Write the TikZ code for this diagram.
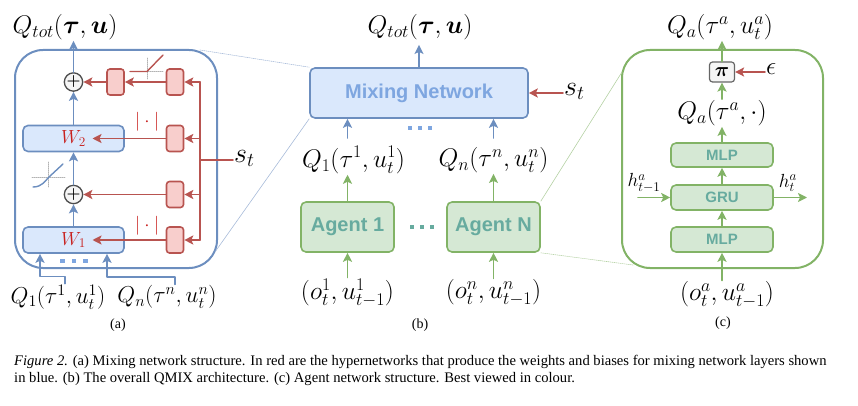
\RequirePackage{fix-cm}
\documentclass[tikz,border=0pt]{standalone}
\usepackage{amsmath}
\usepackage{fontspec}
\newfontfamily\sansbox{Liberation Sans}
\newfontfamily\capfont{Liberation Serif}
\usetikzlibrary{arrows.meta,calc,positioning}

\definecolor{blueline}{HTML}{6C8EBF}
\definecolor{bluefill}{HTML}{DAE8FC}
\definecolor{bluetext}{HTML}{7EA6E0}
\definecolor{redline}{HTML}{B85450}
\definecolor{redfill}{HTML}{F8CECC}
\definecolor{wred}{HTML}{C8201E}
\definecolor{greenline}{HTML}{82B366}
\definecolor{greenfill}{HTML}{D5E8D4}
\definecolor{tealtext}{HTML}{67AB9F}
\definecolor{greyline}{HTML}{666666}
\definecolor{greyfill}{HTML}{F5F5F5}
\definecolor{plusline}{HTML}{4D4D4D}

\tikzset{
  bluepanel/.style={draw=blueline, line width=2pt, rounded corners=28pt},
  greenpanel/.style={draw=greenline, line width=2pt, rounded corners=28pt},
  bluebox/.style={draw=blueline, fill=bluefill, line width=1.6pt, rounded corners=5pt, inner sep=0pt},
  redbox/.style={draw=redline, fill=redfill, line width=1.6pt, rounded corners=3pt,
    minimum width=17pt, minimum height=26pt, inner sep=0pt},
  greenbox/.style={draw=greenline, fill=greenfill, line width=1.6pt, rounded corners=5pt,
    inner sep=0pt, text=tealtext, font=\sansbox\bfseries\fontsize{20}{24}\selectfont},
  mlpbox/.style={greenbox, minimum width=102pt, minimum height=24pt,
    font=\sansbox\bfseries\fontsize{15}{18}\selectfont},
  greybox/.style={draw=greyline, fill=greyfill, line width=1.2pt, rounded corners=3pt,
    minimum width=25pt, minimum height=20pt, inner sep=0pt, font=\fontsize{20}{22}\selectfont},
  plusnode/.style={circle, draw=plusline, fill=greyfill, line width=1.3pt, minimum size=17pt,
    inner sep=0pt, font=\fontsize{16}{16}\selectfont},
  lbl/.style={inner sep=1pt, font=\fontsize{25.5}{28}\selectfont},
  lblA/.style={inner sep=1pt, font=\fontsize{23}{26}\selectfont},
  statelbl/.style={inner sep=1pt, anchor=mid west, font=\fontsize{28}{30}\selectfont},
  smalllbl/.style={inner sep=1pt, font=\fontsize{19}{21}\selectfont},
  sublbl/.style={inner sep=0pt, font=\capfont\fontsize{14}{16}\selectfont},
  captxt/.style={inner sep=0pt, anchor=base west, font=\capfont\fontsize{14.6}{17.5}\selectfont},
  tip/.style={-{Stealth[length=9pt,width=9pt,inset=2pt]}},
  bluearrow/.style={draw=blueline, line width=1.8pt, tip},
  redarrow/.style={draw=redline, line width=1.8pt, tip},
  greenarrow/.style={draw=greenline, line width=1.8pt, tip},
  redwire/.style={draw=redline, line width=1.8pt},
  guide/.style={draw=gray!60, line width=0.6pt, dash pattern=on 1pt off 1pt},
  zoomblue/.style={draw=blueline!60, line width=0.6pt},
  zoomgreen/.style={draw=greenline!60, line width=0.6pt},
}

\begin{document}
\begin{tikzpicture}[x=1pt, y=-1pt, line cap=round, line join=round]
  \useasboundingbox (0,0) rectangle (858,406);

  % --- (a) mixing network ---
  \draw[bluepanel] (15,50) rectangle (217,268);
  \node[lbl] (qtotA) at (65,27) {$Q_{tot}(\boldsymbol{\tau},\boldsymbol{u})$};
  \node[plusnode] (plusT) at (73.5,82) {$\boldsymbol{+}$};
  \node[plusnode] (plusM) at (73.5,194.5) {$\boldsymbol{+}$};
  \node[bluebox, minimum width=101pt, minimum height=26pt, text=wred,
        font=\fontsize{19}{22}\selectfont] (W2) at (73.5,138.5) {$W_2$};
  \node[bluebox, minimum width=101pt, minimum height=26pt, text=wred,
        font=\fontsize{19}{22}\selectfont] (W1) at (73.5,240) {$W_1$};
  % hypernetworks
  \node[redbox] (hb2a) at (115.5,82) {};
  \node[redbox] (hb2) at (175,82) {};
  \node[redbox] (hw2) at (175,138.5) {};
  \node[redbox] (hb1) at (175,194.5) {};
  \node[redbox] (hw1) at (175,240) {};
  \node[smalllbl, text=wred] (absT) at (147,122) {$|\cdot|$};
  \node[smalllbl, text=wred] (absB) at (147,226) {$|\cdot|$};

  \draw[bluearrow] (W1) -- (plusM);
  \draw[bluearrow] (plusM) -- (W2);
  \draw[bluearrow] (W2) -- (plusT);
  \draw[bluearrow] (plusT) -- (plusT |- qtotA.south);

  \draw[redarrow] (hb2) -- (hb2a);
  \draw[redarrow] (hb2a) -- (plusT);
  \draw[redarrow] (hw2) -- ($(W2.center)+(19,0)$);
  \draw[redarrow] (hb1) -- (plusM);
  \draw[redarrow] (hw1) -- ($(W1.center)+(19,0)$);

  % s_t feeds every hypernetwork
  \coordinate (trTop) at (200,82);
  \coordinate (trBot) at (200,240);
  \coordinate (stEnd) at (233,160);
  \draw[redwire] (trTop) -- (trBot);
  \foreach \n in {hb2,hw2,hb1,hw1}
    \draw[redarrow] (trTop |- \n.east) -- (\n.east);
  \draw[redwire] (stEnd) -- (stEnd -| trTop);
  \node[statelbl] (stA) at (stEnd) {$s_t$};

  % activation icons
  \draw[guide] (147,58) -- (147,80) (130,71.5) -- (163,71.5);
  \draw[redwire, line width=1.4pt] (130,71.5) -- (147,71.5) -- (163,55);
  \draw[guide] (48,162) -- (48,188) (32,177) -- (65,177);
  \draw[draw=blueline, line width=1.4pt] (33,187) .. controls (42,187) and (45,181) .. (49,177) -- (63,164);

  \foreach \x in {62.5,74,85.5}
    \fill[bluetext] (\x-2.3,258.7) rectangle (\x+2.3,263.3);

  \node[lblA] (q1A) at (58,297) {$Q_1(\tau^1,u_t^1)$};
  \node[lblA] (qnA) at (167,297) {$Q_n(\tau^n,u_t^n)$};
  \draw[bluearrow] ([xshift=7pt]q1A.north) -- ++(0,-7) -| ([xshift=-33.5pt]W1.south);
  \draw[bluearrow] ([xshift=8pt]qnA.north) -- ++(0,-7) -| ([xshift=33.5pt]W1.south);
  \node[sublbl] (capA) at (118,325) {(a)};

  % --- (b) QMIX ---
  \node[bluebox, minimum width=218pt, minimum height=50pt, text=bluetext,
        font=\sansbox\bfseries\fontsize{20}{24}\selectfont] (mix) at (419,93) {Mixing Network};
  \node[lbl] (qtotB) at (420,27) {$Q_{tot}(\boldsymbol{\tau},\boldsymbol{u})$};
  \draw[bluearrow] (mix.north) -- ([yshift=-4pt]mix.north |- qtotB.south);
  \node[statelbl] (stB) at (563,93) {$s_t$};
  \draw[redarrow] (stB.mid west) -- (mix.east);

  \node[greenbox, minimum width=93pt, minimum height=50pt] (agent1) at (347.5,227) {Agent 1};
  \node[greenbox, minimum width=93pt, minimum height=50pt] (agentN) at (493.5,227) {Agent N};
  \node[lbl] (q1B) at (353.5,160) {$Q_1(\tau^1,u_t^1)$};
  \node[lbl] (qnB) at (493.5,160) {$Q_n(\tau^n,u_t^n)$};
  \coordinate (in1) at (347.5,138);
  \coordinate (inN) at (493.5,138);
  \draw[bluearrow] (in1) -- (in1 |- mix.south);
  \draw[bluearrow] (inN) -- (inN |- mix.south);
  \foreach \x in {410,420,430}
    \fill[bluetext] (\x-2.3,125.7) rectangle (\x+2.3,130.3);

  \draw[greenarrow] (agent1) -- (agent1 |- q1B.south);
  \draw[greenarrow] (agentN) -- (agentN |- qnB.south);
  \foreach \x in {412,422,432}
    \fill[tealtext] (\x-2.3,224.7) rectangle (\x+2.3,229.3);

  \node[lbl] (o1) at (347.5,293) {$(o_t^1,u_{t-1}^1)$};
  \node[lbl] (on) at (493.5,293) {$(o_t^n,u_{t-1}^n)$};
  \draw[greenarrow] (o1.north -| agent1) -- (agent1);
  \draw[greenarrow] (on.north -| agentN) -- (agentN);
  \node[sublbl] (capB) at (420,325) {(b)};

  % --- (c) agent network ---
  \draw[greenpanel] (622,50) rectangle (823,268);
  \node[lbl] (qaOut) at (720,27) {$Q_a(\tau^a,u_t^a)$};
  \node[greybox] (pi) at (722,72) {$\boldsymbol{\pi}$};
  \node[lbl, anchor=mid west] (eps) at (765,72) {$\epsilon$};
  \draw[redarrow] (eps.mid west) -- (pi.east);
  \node[lbl] (qaMid) at (722,113) {$Q_a(\tau^a,\cdot)$};
  \node[mlpbox] (mlpT) at (722,155) {MLP};
  \node[mlpbox, minimum height=25pt] (gru) at (722,197.5) {GRU};
  \node[mlpbox, minimum height=25pt] (mlpB) at (722,239.5) {MLP};

  \draw[greenarrow] (pi) -- (pi |- qaOut.south);
  \draw[greenarrow] (pi |- qaMid.north) -- (pi);
  \draw[greenarrow] (mlpT) -- (mlpT |- qaMid.south);
  \draw[greenarrow] (gru) -- (mlpT);
  \draw[greenarrow] (mlpB) -- (gru);

  \coordinate (hIn) at (638,197.5);
  \coordinate (hOut) at (807,197.5);
  \draw[greenarrow] (hIn) -- (gru);
  \draw[greenarrow] (gru) -- (hOut);
  \node[smalllbl, anchor=south] (hPrev) at (644,194) {$h_{t-1}^a$};
  \node[smalllbl, anchor=south] (hNext) at (788,193) {$h_t^a$};

  \node[lbl] (oa) at (727,295) {$(o_t^a,u_{t-1}^a)$};
  \draw[greenarrow] (oa.north -| mlpB) -- (mlpB);
  \node[sublbl] (capC) at (723,323) {(c)};

  % --- zoom lines ---
  \coordinate (aTop) at (200,50);
  \coordinate (aBot) at (215,252);
  \coordinate (cTop) at (622,72);
  \coordinate (cBot) at (633,265);
  \draw[zoomblue, dash pattern=on 1pt off 1pt] (aTop) -- (mix.north west);
  \draw[zoomblue] (aBot) -- (mix.south west);
  \draw[zoomgreen] (agentN.north east) -- (cTop);
  \draw[zoomgreen, dash pattern=on 1pt off 1pt] (agentN.south east) -- (cBot);

  % --- caption ---
  \node[captxt] (cap1) at (14,365) {\textit{Figure 2.} (a) Mixing network structure. In red are the hypernetworks that produce the weights and biases for mixing network layers shown};
  \node[captxt] (cap2) at (14,382.5) {in blue. (b) The overall QMIX architecture. (c) Agent network structure. Best viewed in colour.};
\end{tikzpicture}
\end{document}
